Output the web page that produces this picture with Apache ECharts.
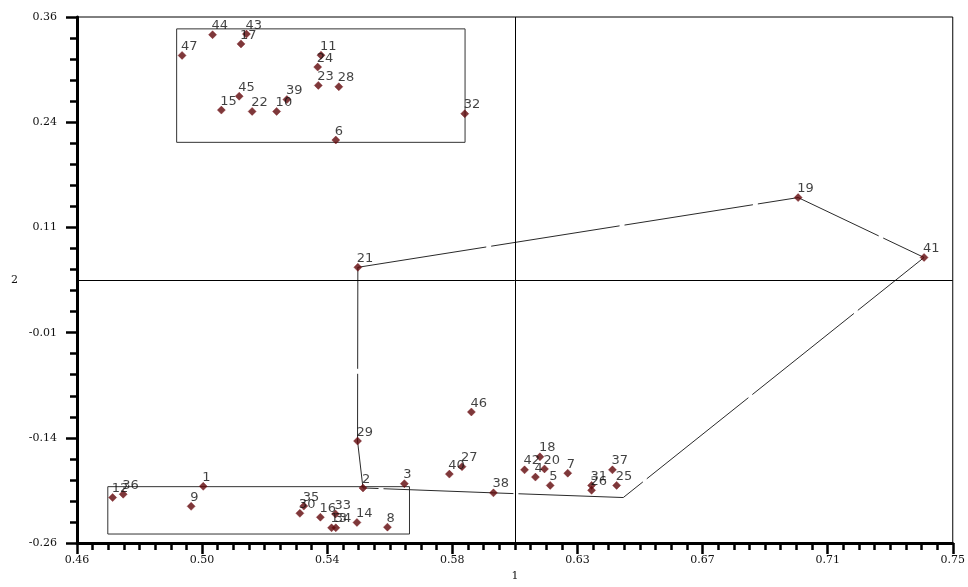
<!DOCTYPE html>
<html>
<head>
<meta charset="utf-8">
<script src="https://cdn.jsdelivr.net/npm/echarts@6/dist/echarts.min.js"></script>
<style>html,body{margin:0;padding:0;background:#fff;}#c{width:968px;height:587px;}</style>
</head>
<body>
<div id="c"></div>
<script>
// ---- data ----
const pointLabels = ['1','2','3','4','5','6','7','8','9','10','11','12','13','14','15','16','17','18','19','20','21','22','23','24','25','26','27','28','29','30','31','32','33','34','35','36','37','38','39','40','41','42','43','44','45','46','47'];
const dim1 = [0.5018,0.5547,0.5684,0.6118,0.6167,0.5457,0.6225,0.5628,0.4978,0.5261,0.5408,0.4718,0.5443,0.5527,0.5078,0.5406,0.5143,0.6133,0.6988,0.6148,0.5530,0.5180,0.5399,0.5397,0.6387,0.6304,0.5875,0.5467,0.5529,0.5338,0.6304,0.5884,0.5456,0.5457,0.5351,0.4753,0.6373,0.5979,0.5295,0.5833,0.7405,0.6082,0.5161,0.5049,0.5137,0.5906,0.4948];
const dim2 = [-0.1931,-0.1950,-0.1900,-0.1822,-0.1920,0.2150,-0.1776,-0.2412,-0.2167,0.2487,0.3150,-0.2063,-0.2420,-0.2357,0.2503,-0.2295,0.3283,-0.1583,0.1472,-0.1726,0.0650,0.2487,0.2794,0.3010,-0.1920,-0.1978,-0.1699,0.2778,-0.1397,-0.2249,-0.1920,0.2460,-0.2257,-0.2420,-0.2164,-0.2024,-0.1737,-0.2008,0.2627,-0.1787,0.0766,-0.1737,0.3399,0.3391,0.2666,-0.1055,0.3147];

// hull outline: point labels, with one extra corner vertex
const hullCorner = [0.6409, -0.2063];
const hullPath = ['21','19','41','corner','38','2','29','21'];

// annotation boxes [x1, y1, x2, y2]
const boxTop = [0.4930, 0.3460, 0.5885, 0.2123];
const boxBottom = [0.4702, -0.1935, 0.5701, -0.2493];

// crosshair (centre of axis ranges)
const crossX = 0.605;
const crossY = 0.05;

// axis ticks
const xMin = 0.46, xMax = 0.75;
const yMin = -0.26, yMax = 0.36;
const xTickLabels = ['0.46','0.50','0.54','0.58','0.63','0.67','0.71','0.75'];
const yTickLabels = ['-0.26','-0.14','-0.01','0.11','0.24','0.36'];
const xAxisName = '1';
const yAxisName = '2';

// ---- build ----
const points = pointLabels.map((n, i) => ({ name: n, value: [dim1[i], dim2[i]] }));
const hullData = hullPath.map(n => {
  if (n === 'corner') return hullCorner;
  const i = pointLabels.indexOf(n);
  return [dim1[i], dim2[i]];
});

const serifFont = 'DejaVu Serif';
const axisCommon = {
  type: 'value',
  axisLine: { show: true, onZero: false, lineStyle: { color: '#000', width: 3 } },
  axisTick: { show: true, inside: false, length: 11, lineStyle: { color: '#000', width: 2.5 } },
  minorTick: { show: true, length: 7, lineStyle: { color: '#000', width: 2.5 } },
  splitLine: { show: false },
  minorSplitLine: { show: false },
  nameTextStyle: { fontFamily: serifFont, fontSize: 11, color: '#111' }
};

const chart = echarts.init(document.getElementById('c'), null, { renderer: 'canvas' });
chart.setOption({
  backgroundColor: '#fff',
  animation: false,
  grid: { left: 77, right: 11, top: 17, bottom: 37, show: true, borderColor: '#000', borderWidth: 1, backgroundColor: 'transparent' },
  xAxis: Object.assign({}, axisCommon, {
    min: xMin, max: xMax, interval: (xMax - xMin) / (xTickLabels.length - 1),
    minorTick: Object.assign({}, axisCommon.minorTick, { splitNumber: 8 }),
    name: xAxisName, nameLocation: 'middle', nameGap: 26,
    axisLabel: { margin: 12, fontFamily: serifFont, fontSize: 11, color: '#111',
      formatter: (v, i) => xTickLabels[i] !== undefined ? xTickLabels[i] : '' }
  }),
  yAxis: Object.assign({}, axisCommon, {
    min: yMin, max: yMax, interval: (yMax - yMin) / (yTickLabels.length - 1),
    minorTick: Object.assign({}, axisCommon.minorTick, { splitNumber: 5 }),
    name: yAxisName, nameLocation: 'middle', nameGap: 59, nameRotate: 0,
    axisLabel: { margin: 20, fontFamily: serifFont, fontSize: 11, color: '#111',
      formatter: (v, i) => yTickLabels[i] !== undefined ? yTickLabels[i] : '' }
  }),
  series: [
    {
      type: 'line',
      data: hullData,
      symbol: 'none',
      silent: true,
      z: 2,
      lineStyle: { color: '#2a2a2a', width: 1, type: [130, 5] },
      markArea: {
        silent: true,
        itemStyle: { color: 'rgba(0,0,0,0)', borderColor: '#333', borderWidth: 1 },
        data: [
          [{ coord: [boxTop[0], boxTop[1]] }, { coord: [boxTop[2], boxTop[3]] }],
          [{ coord: [boxBottom[0], boxBottom[1]] }, { coord: [boxBottom[2], boxBottom[3]] }]
        ]
      },
      markLine: {
        silent: true,
        symbol: 'none',
        label: { show: false },
        lineStyle: { color: '#000', width: 1, type: 'solid' },
        data: [
          [{ coord: [crossX, yMin] }, { coord: [crossX, yMax] }],
          [{ coord: [xMin, crossY] }, { coord: [xMax, crossY] }]
        ]
      }
    },
    {
      type: 'scatter',
      data: points,
      symbol: 'diamond',
      symbolSize: 8,
      z: 5,
      itemStyle: { color: '#5e0609', borderColor: '#7a1016', borderWidth: 0.5 },
      label: {
        show: true,
        position: 'top',
        align: 'left',
        distance: 0,
        offset: [-1, 2],
        formatter: p => p.name,
        fontFamily: 'DejaVu Sans',
        fontSize: 13,
        color: '#111'
      }
    }
  ]
});
</script>
</body>
</html>
